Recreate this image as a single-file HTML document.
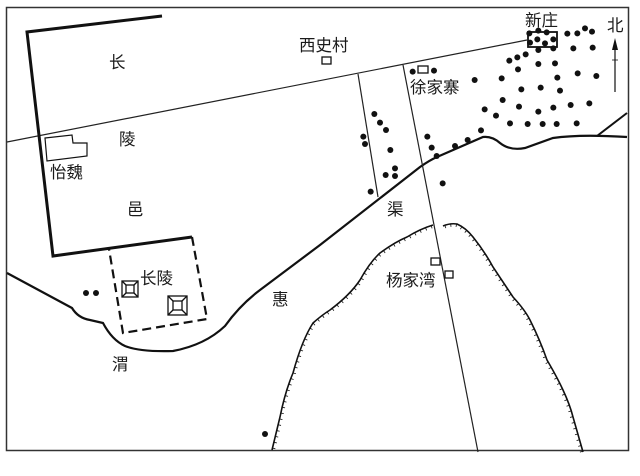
<!DOCTYPE html>
<html><head><meta charset="utf-8"><style>
html,body{margin:0;padding:0;background:#fff;width:640px;height:476px;overflow:hidden}
text{font-family:"Liberation Sans","Noto Sans CJK SC",sans-serif;font-size:16.5px;fill:#1a1a1a}
</style></head><body>
<svg id="s" width="640" height="476" viewBox="0 0 640 476" xmlns="http://www.w3.org/2000/svg">
<rect x="6.5" y="7.5" width="622" height="443" fill="none" stroke="#333" stroke-width="1.5"/>
<line x1="7" y1="142" x2="527" y2="40" stroke="#222" stroke-width="1.2"/>
<polyline points="162,16 27,32 53,256 192,237" fill="none" stroke="#111" stroke-width="3"/>
<polyline points="192,237 207,319 123,333 109,249" fill="none" stroke="#111" stroke-width="2.2" stroke-dasharray="9,5"/>
<g fill="none" stroke="#111" stroke-width="1.3">
<rect x="122" y="281" width="16" height="16"/><rect x="126" y="285" width="8" height="8"/>
<line x1="122" y1="281" x2="126" y2="285"/><line x1="138" y1="281" x2="134" y2="285"/><line x1="122" y1="297" x2="126" y2="293"/><line x1="138" y1="297" x2="134" y2="293"/>
<rect x="168" y="296" width="19" height="19"/><rect x="173" y="301" width="9" height="9"/>
<line x1="168" y1="296" x2="173" y2="301"/><line x1="187" y1="296" x2="182" y2="301"/><line x1="168" y1="315" x2="173" y2="310"/><line x1="187" y1="315" x2="182" y2="310"/>
</g>
<polygon points="45,138 72,135 73,143 87,143 87,156 47,161" fill="none" stroke="#111" stroke-width="1.2"/>
<path d="M7,273 L72,308 Q78,318 90,320 L103,323 Q112,340 125,346 Q140,352 173,351 Q205,345 225,326 Q240,305 260,290 L320,245 L420,167 Q430,160 437,157 L483,137 Q492,136 500,143 Q510,151 525,148 L553,138 Q580,134 627,137" fill="none" stroke="#111" stroke-width="2.2"/>
<line x1="597" y1="136" x2="627" y2="113" stroke="#111" stroke-width="2"/>
<line x1="358" y1="74" x2="378" y2="197" stroke="#222" stroke-width="1.2"/>
<line x1="403" y1="65" x2="478" y2="452" stroke="#222" stroke-width="1.2"/>
<path id="h1" d="M272,450 L280,417 Q285,392 293,373 Q302,340 313,323 Q322,315 330,310 Q350,295 360,280 Q370,262 380,253 Q395,242 407,237 Q420,229 433,225" fill="none" stroke="#111" stroke-width="1.6"/>
<path id="h2" d="M443,226 Q450,223 457,224 Q466,228 473,237 Q485,252 493,267 Q505,285 513,297 Q525,310 530,320 Q540,340 547,360 Q557,377 563,390 Q570,405 573,417 L583,452" fill="none" stroke="#111" stroke-width="1.6"/>
<g id="ticks" stroke="#111" stroke-width="0.8"></g>
<g fill="#fff" stroke="#111" stroke-width="1.3">
<rect x="322" y="57" width="9" height="7"/>
<rect x="418" y="66" width="10" height="7"/>
<rect x="431" y="258" width="9" height="7"/>
<rect x="445" y="271" width="8" height="7"/>
</g>
<rect x="528" y="32" width="29" height="15" fill="none" stroke="#111" stroke-width="1.8"/>
<g id="dots" fill="#111"></g>
<line x1="615" y1="92" x2="615" y2="44" stroke="#111" stroke-width="1.2"/>
<polygon points="615,38 612,50 618,50" fill="#111"/>
<line x1="612" y1="60" x2="618" y2="60" stroke="#111" stroke-width="0.8"/>
<text x="607" y="31">北</text>
<text x="109" y="68">长</text>
<text x="119" y="145">陵</text>
<text x="127" y="215">邑</text>
<text x="50" y="178">怡魏</text>
<text x="140" y="284">长陵</text>
<text x="112" y="370">渭</text>
<text x="272" y="305">惠</text>
<text x="387" y="215">渠</text>
<text x="299" y="51">西史村</text>
<text x="410" y="93">徐家寨</text>
<text x="525" y="26">新庄</text>
<text x="386" y="286">杨家湾</text>
</svg>
<script>
var d=[[655,92],[680,97],[628,100],[652,118],[675,130],[630,128],[700,118],[742,101],[772,100],[795,85],[816,95],[760,145],[818,143],[655,150],[700,145],[568,182],[592,172],[617,163],[594,208],[655,192],[705,190],[773,220],[829,228],[712,233],[545,235],[464,240],[604,268],[662,263],[720,272],[548,300],[597,320],[655,335],[700,323],[752,315],[808,310],[494,328],[528,347],[570,370],[623,372],[668,372],[710,372],[770,370],[483,391],[443,420],[405,438],[350,468],[335,443],[322,410],[368,550],[163,342],[180,368],[198,390],[130,410],[135,432],[211,450],[225,505],[225,528],[197,525],[152,575],[278,215],[342,212]];
var g=document.getElementById('dots'),ns='http://www.w3.org/2000/svg';
d.forEach(function(p){var c=document.createElementNS(ns,'circle');c.setAttribute('cx',p[0]/3+320);c.setAttribute('cy',p[1]/3);c.setAttribute('r',3);g.appendChild(c);});
[[86,293],[96,293],[265,434]].forEach(function(p){var c=document.createElementNS(ns,'circle');c.setAttribute('cx',p[0]);c.setAttribute('cy',p[1]);c.setAttribute('r',3);g.appendChild(c);});
var t=document.getElementById('ticks');
function tick(id,side){var p=document.getElementById(id),L=p.getTotalLength();for(var s=2;s<L;s+=6){var a=p.getPointAtLength(s),b=p.getPointAtLength(Math.min(L,s+0.5));var dx=b.x-a.x,dy=b.y-a.y,n=Math.hypot(dx,dy)||1;var nx=-dy/n*side*3,ny=dx/n*side*3;var l=document.createElementNS(ns,'line');l.setAttribute('x1',a.x);l.setAttribute('y1',a.y);l.setAttribute('x2',a.x+nx);l.setAttribute('y2',a.y+ny);t.appendChild(l);}}
tick('h1',1);tick('h2',1);
</script>
</body></html>
